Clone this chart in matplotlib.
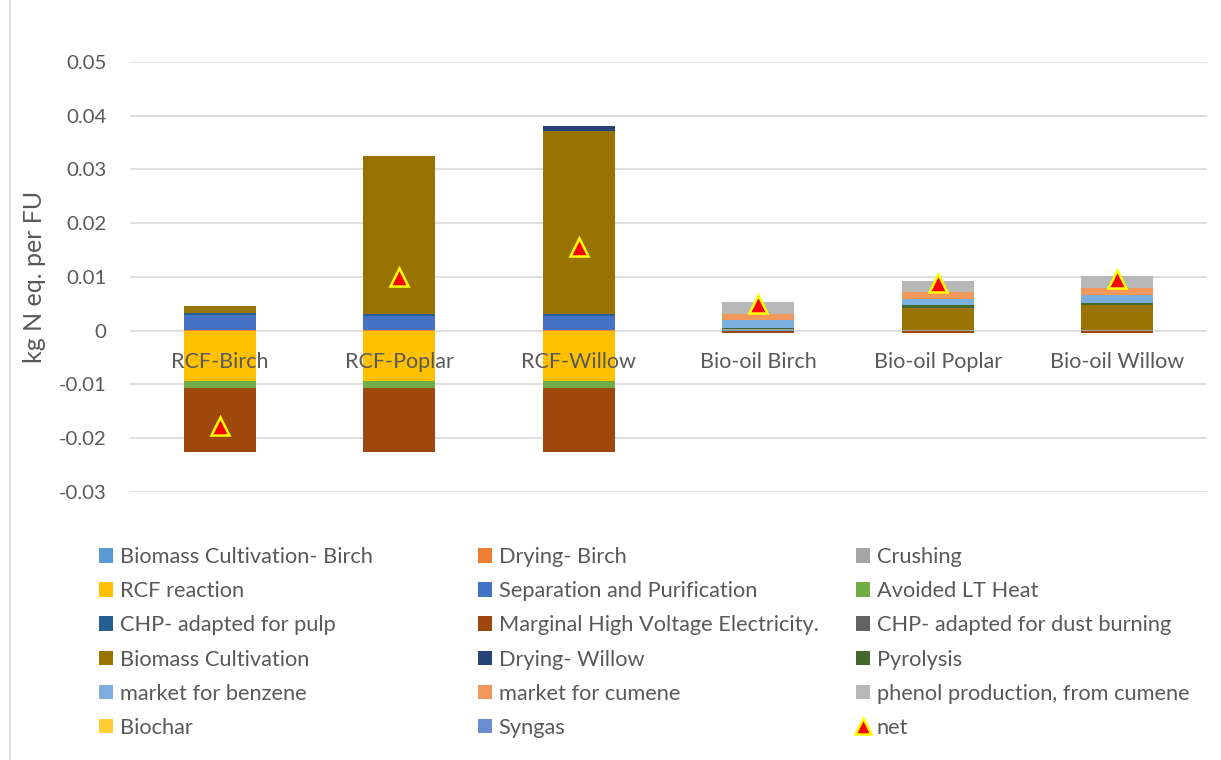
import matplotlib
matplotlib.use('Agg')
import matplotlib.pyplot as plt
from matplotlib.patches import Patch
from matplotlib.lines import Line2D
import numpy as np

plt.rcParams['font.family'] = ['Lato', 'DejaVu Sans']

categories = ['RCF-Birch', 'RCF-Poplar', 'RCF-Willow', 'Bio-oil Birch', 'Bio-oil Poplar', 'Bio-oil Willow']

series_names = [
    'Biomass Cultivation- Birch', 'Drying- Birch', 'Crushing',
    'RCF reaction', 'Separation and Purification', 'Avoided LT Heat',
    'CHP- adapted for pulp', 'Marginal High Voltage Electricity.', 'CHP- adapted for dust burning',
    'Biomass Cultivation', 'Drying- Willow', 'Pyrolysis',
    'market for benzene', 'market for cumene', 'phenol production, from cumene',
    'Biochar', 'Syngas',
]
series_colors = [
    '#5B9BD5', '#ED7D31', '#A5A5A5',
    '#FFC000', '#4472C4', '#70AD47',
    '#255E91', '#9E480E', '#636363',
    '#997300', '#264478', '#43682B',
    '#7CAFDD', '#F1975A', '#B7B7B7',
    '#FFCD33', '#698ED0',
]

# values per series, one per category
bc_birch   = [0.0, 0.0, 0.0, 0.0002, 0.0, 0.0]
dry_birch  = [0.0001, 0.0001, 0.0001, 0.0, 0.0, 0.0]
crushing   = [0.0, 0.0, 0.0, 0.0001, 0.0002, 0.0002]
rcf_react  = [-0.0093, -0.0093, -0.0093, 0.0, 0.0, 0.0]
separation = [0.0029, 0.0027, 0.0026, 0.0, 0.0, 0.0]
avoided_lt = [-0.0013, -0.0013, -0.0013, 0.0, 0.0, 0.0]
chp_pulp   = [0.0003, 0.0004, 0.0005, 0.0, 0.0, 0.0]
marg_elec  = [-0.0119, -0.0119, -0.0119, -0.0004, -0.0005, -0.0005]
chp_dust   = [0.0, 0.0, 0.0, 0.0, 0.0, 0.0]
bio_cult   = [0.0013, 0.0293, 0.0340, 0.0, 0.0041, 0.0046]
dry_willow = [0.0, 0.0, 0.0008, 0.0, 0.0, 0.0]
pyrolysis  = [0.0, 0.0, 0.0, 0.0003, 0.0004, 0.0004]
benzene    = [0.0, 0.0, 0.0, 0.0014, 0.0013, 0.0015]
cumene     = [0.0, 0.0, 0.0, 0.0012, 0.0013, 0.0013]
phenol     = [0.0, 0.0, 0.0, 0.0021, 0.0020, 0.0021]
biochar    = [0.0, 0.0, 0.0, 0.0001, 0.0, 0.0]
syngas     = [0.0, 0.0, 0.0, 0.0, 0.0, 0.0]
net        = [-0.0178, 0.0100, 0.0155, 0.0050, 0.0088, 0.0096]

series_values = [bc_birch, dry_birch, crushing, rcf_react, separation, avoided_lt,
                 chp_pulp, marg_elec, chp_dust, bio_cult, dry_willow, pyrolysis,
                 benzene, cumene, phenol, biochar, syngas]

text_color = '#595959'
grid_color = '#D9D9D9'

fig = plt.figure(figsize=(12.21, 7.6), dpi=100)
ax = fig.add_axes([130/1221, 1-492/760, (1207-130)/1221, (492-62)/760])

x = np.arange(len(categories))
pos_base = np.zeros(len(categories))
neg_base = np.zeros(len(categories))
for name, vals, col in zip(series_names, series_values, series_colors):
    v = np.array(vals)
    pos = np.where(v > 0, v, 0)
    neg = np.where(v < 0, v, 0)
    ax.bar(x, pos, 0.4, bottom=pos_base, color=col, linewidth=0, zorder=2)
    ax.bar(x, neg, 0.4, bottom=neg_base, color=col, linewidth=0, zorder=2)
    pos_base += pos
    neg_base += neg

ax.plot(x, net, linestyle='none', marker='^', markersize=13, markerfacecolor='#FF0000',
        markeredgecolor='#FFFF00', markeredgewidth=1.8, zorder=4)

ax.set_xlim(-0.5, len(categories) - 0.5)
ax.set_ylim(-0.03, 0.05)
ax.set_yticks(np.arange(-0.03, 0.051, 0.01))
ax.set_yticklabels(['-0.03', '-0.02', '-0.01', '0', '0.01', '0.02', '0.03', '0.04', '0.05'])
ax.set_xticks([])
for yv in np.arange(-0.03, 0.051, 0.01):
    ax.axhline(yv, color=grid_color, linewidth=1.2, zorder=0)
for s in ax.spines.values():
    s.set_visible(False)
ax.tick_params(axis='y', length=0, pad=17, labelsize=14.7, labelcolor=text_color)
ax.set_ylabel('kg N eq. per FU', fontsize=18, color=text_color, labelpad=9)

for i, c in enumerate(categories):
    ax.text(i, -0.0059, c, ha='center', va='center', fontsize=15.5, color=text_color, zorder=5)

# legend in three equal columns, filled row-wise
handles = [Patch(facecolor=c, edgecolor='none') for c in series_colors]
handles.append(Line2D([], [], linestyle='none', marker='^', markersize=11, markerfacecolor='#FF0000',
                      markeredgecolor='#FFFF00', markeredgewidth=1.8))
labels = series_names + ['net']
col_x = [99, 478, 856]
for c in range(3):
    idx = list(range(c, len(labels), 3))
    fig.legend([handles[i] for i in idx], [labels[i] for i in idx],
               loc='upper left', bbox_to_anchor=(col_x[c]/1221, 1-547/760),
               frameon=False, fontsize=15.7, labelcolor=text_color,
               handlelength=0.65, handleheight=0.65, handletextpad=0.3,
               labelspacing=0.65, borderaxespad=0, borderpad=0)

fig.add_artist(Line2D([10/1221, 10/1221], [0, 1], color=grid_color, linewidth=1.2))

fig.savefig('out.png', dpi=100)
